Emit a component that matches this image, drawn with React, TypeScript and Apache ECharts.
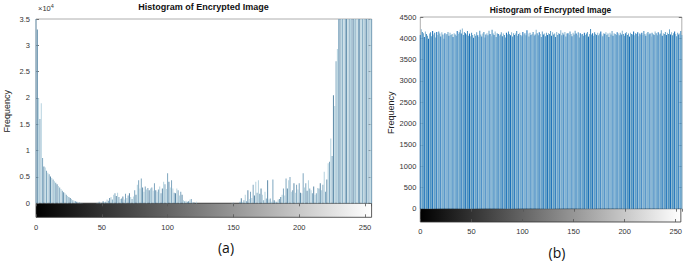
import React, { useEffect, useRef } from "react";
import * as echarts from "echarts";

// gray-level bins 0..255
const bins: number[] = Array.from({ length: 256 }, (_, i) => i);

// (a) histogram counts (clipped above 3.5e4)
const countsA: number[] = [
  35000, 33000, 20000, 16000, 19000, 8600, 7000, 6800, 6200, 5800, 5500, 5100, 4800, 4500, 4200, 3900,
  3600, 3300, 3000, 2700, 2400, 2100, 1900, 1600, 1400, 1200, 1000, 800, 600, 500, 400, 300,
  200, 150, 100, 60, 30, 20, 0, 0, 0, 0, 0, 0, 0, 0, 40, 100,
  300, 100, 50, 400, 200, 300, 700, 500, 1000, 1200, 700, 1600, 1900, 1400, 2000, 1200,
  800, 900, 1300, 700, 1800, 1000, 1500, 1900, 1200, 800, 1300, 2500, 1600, 3500, 4400, 2800,
  4700, 3000, 2200, 3200, 2600, 2900, 2500, 2800, 3000, 2400, 3800, 2500, 2200, 2600, 3200, 1900,
  2800, 4100, 3600, 2700, 5700, 4100, 3000, 4400, 2800, 2000, 1900, 2800, 2500, 1500, 2200, 1600,
  600, 400, 500, 300, 400, 700, 800, 100, 200, 0, 300, 0, 0, 0, 0, 0,
  0, 0, 0, 0, 0, 0, 0, 0, 0, 0, 0, 0, 0, 0, 0, 0,
  0, 0, 0, 0, 0, 50, 100, 0, 0, 0, 0, 300, 950, 200, 600, 1600,
  400, 2500, 800, 2200, 1000, 3500, 1500, 4100, 2000, 4400, 1800, 2800, 1600, 600, 2200, 900,
  4400, 700, 900, 300, 4500, 600, 300, 300, 700, 800, 1200, 1600, 2800, 1500, 4700, 2800,
  4400, 5000, 2200, 2500, 3800, 2000, 3500, 2600, 3800, 2000, 1900, 5700, 3000, 3800, 2400, 4400,
  2800, 2500, 1900, 3200, 1600, 1900, 2900, 2800, 3800, 2500, 3500, 6000, 2200, 4500, 7600, 7900,
  12300, 9000, 20500, 18500, 27000, 29300, 40000, 40000, 40000, 40000, 40000, 40000, 40000, 40000, 40000, 40000,
  40000, 40000, 40000, 40000, 40000, 40000, 40000, 40000, 40000, 40000, 40000, 40000, 40000, 40000, 40000, 40000,
];

// (b) histogram counts of the encrypted image
const countsB: number[] = [
  4080, 4210, 4150, 4120, 4030, 4160, 4100, 4060, 3990, 4110, 4140, 4050, 4170, 4090, 4130, 4020,
  4150, 4080, 4160, 4110, 4040, 4140, 4090, 3990, 4120, 4070, 4100, 4150, 4060, 4130, 4080, 4100,
  4030, 4120, 4090, 4060, 4170, 4100, 4140, 4200, 4110, 4230, 4080, 4150, 4120, 4090, 4170, 4060,
  4110, 4050, 4130, 4080, 4010, 4100, 4060, 4140, 4070, 4030, 4180, 4090, 4040, 4110, 4150, 4020,
  4090, 4120, 4070, 4180, 4100, 4050, 4200, 4110, 4080, 4160, 4030, 4120, 4100, 4060, 4090, 4140,
  4050, 4110, 4080, 4020, 4130, 4090, 4160, 4100, 4070, 4140, 4040, 4120, 4080, 4110, 4170, 4060,
  4100, 4130, 4080, 4050, 4150, 4090, 4120, 4070, 4190, 4110, 4040, 4130, 4080, 4100, 4150, 4060,
  4090, 4200, 4120, 4070, 4140, 4100, 4030, 4160, 4090, 4110, 4050, 4130, 4080, 4120, 4100, 4170,
  4060, 4140, 4090, 4110, 4030, 4150, 4080, 4120, 4100, 4190, 4070, 4130, 4090, 4150, 4040, 4110,
  4120, 4080, 4160, 4100, 4050, 4130, 4090, 4180, 4110, 4070, 4140, 4020, 4120, 4090, 4100, 4060,
  4130, 4080, 4110, 4150, 4040, 4100, 4220, 4090, 4120, 4060, 4140, 4100, 4080, 4130, 4070, 4110,
  4160, 4090, 4050, 4120, 4100, 4140, 4080, 4110, 4030, 4130, 4090, 4170, 4060, 4120, 4100, 4080,
  4140, 4110, 4070, 4130, 4090, 4180, 4100, 4060, 4120, 4150, 4080, 4110, 4040, 4130, 4100, 4090,
  4160, 4070, 4120, 4100, 4140, 4050, 4110, 4090, 4130, 4080, 4170, 4100, 4060, 4120, 4150, 4090,
  4110, 4040, 4130, 4100, 4080, 4160, 4120, 4070, 4140, 4090, 4110, 4190, 4060, 4120, 4100, 4150,
  4080, 4130, 4100, 4210, 4090, 4140, 4070, 4120, 4160, 4100, 4050, 4130, 4090, 4110, 4170, 4080,
];

const titleText = "Histogram of Encrypted Image";
const yName = "Frequency";

const FONT = "Liberation Sans, Arial, sans-serif";
const LABEL_COLOR = "#333";

export default function App() {
  const ref = useRef<HTMLDivElement>(null);
  useEffect(() => {
    if (!ref.current) return;
    const chart = echarts.init(ref.current, null, { renderer: "svg" });
    const grad = new echarts.graphic.LinearGradient(0, 0, 1, 0, [
      { offset: 0, color: "#000" },
      { offset: 1, color: "#fff" },
    ]);
    const axisLabel = { fontSize: 7.5, color: LABEL_COLOR, fontFamily: FONT };
    const tickStyle = { lineStyle: { color: "#555", width: 0.8 } };
    const histX = (gi: number) => ({
      type: "value" as const,
      gridIndex: gi,
      min: 0,
      max: 255,
      interval: 50,
      position: "top" as const,
      axisLine: { show: false },
      axisLabel: { show: false },
      axisTick: { show: true, inside: true, length: 3, ...tickStyle },
      splitLine: { show: false },
    });
    const barX = (gi: number, margin: number) => ({
      type: "value" as const,
      gridIndex: gi,
      min: 0,
      max: 255,
      interval: 50,
      position: "bottom" as const,
      axisLine: { show: false },
      axisLabel: { ...axisLabel, margin, formatter: (v: number) => String(v) },
      axisTick: { show: true, inside: true, length: 3, ...tickStyle },
      splitLine: { show: false },
    });
    const hiddenY = (gi: number) => ({
      type: "value" as const,
      gridIndex: gi,
      min: 0,
      max: 1,
      show: false,
    });
    const option: any = {
      animation: false,
      grid: [
        { left: 36, top: 19, width: 335.6, height: 184.3, show: true, borderColor: "#9a9a9a", borderWidth: 0.8, backgroundColor: "#fff" },
        { left: 36, top: 203.3, width: 335.6, height: 14, show: true, borderColor: "#333", borderWidth: 0.8, backgroundColor: grad },
        { left: 420.3, top: 17, width: 261.5, height: 191.7, show: true, borderColor: "#9a9a9a", borderWidth: 0.8, backgroundColor: "#fff" },
        { left: 420.3, top: 208.7, width: 261.5, height: 13.3, show: true, borderColor: "#333", borderWidth: 0.8, backgroundColor: grad },
      ],
      xAxis: [histX(0), barX(1, 6), histX(2), barX(3, 5)],
      yAxis: [
        {
          type: "value", gridIndex: 0, min: 0, max: 35000, interval: 5000, position: "left",
          axisLine: { show: false },
          axisTick: { show: true, inside: true, length: 3, ...tickStyle },
          axisLabel: { ...axisLabel, margin: 6, formatter: (v: number) => String(v / 10000) },
          splitLine: { show: false },
          name: yName, nameLocation: "middle", nameGap: 25, nameRotate: 90,
          nameTextStyle: { fontSize: 9, color: "#222", fontFamily: FONT },
        },
        {
          type: "value", gridIndex: 0, min: 0, max: 35000, interval: 5000, position: "right",
          axisLine: { show: false },
          axisTick: { show: true, inside: true, length: 3, ...tickStyle },
          axisLabel: { show: false },
          splitLine: { show: false },
        },
        hiddenY(1),
        {
          type: "value", gridIndex: 2, min: 0, max: 4500, interval: 500, position: "left",
          axisLine: { show: false },
          axisTick: { show: true, inside: true, length: 3, ...tickStyle },
          axisLabel: { ...axisLabel, margin: 4, formatter: (v: number) => String(v) },
          splitLine: { show: false },
          name: yName, nameLocation: "middle", nameGap: 25, nameRotate: 90,
          nameTextStyle: { fontSize: 9, color: "#222", fontFamily: FONT },
        },
        {
          type: "value", gridIndex: 2, min: 0, max: 4500, interval: 500, position: "right",
          axisLine: { show: false },
          axisTick: { show: true, inside: true, length: 3, ...tickStyle },
          axisLabel: { show: false },
          splitLine: { show: false },
        },
        hiddenY(3),
      ],
      series: [
        {
          type: "bar",
          xAxisIndex: 0,
          yAxisIndex: 0,
          barWidth: 1,
          clip: true,
          data: bins.map((b) => [b, countsA[b]]),
          itemStyle: {
            color: (p: any) => {
              const k = (p.dataIndex * 7) % 5;
              return k < 2 ? "#7ea6bf" : k === 2 ? "#5d8aa8" : "#b4d2de";
            },
          },
        },
        {
          type: "bar",
          xAxisIndex: 2,
          yAxisIndex: 3,
          barWidth: 1.05,
          clip: true,
          data: bins.map((b) => [b, countsB[b]]),
          itemStyle: {
            color: (p: any) => {
              const k = (p.dataIndex * 3) % 4;
              return k === 0 ? "#1b70b8" : k === 1 ? "#6aa4c9" : k === 2 ? "#4d93c2" : "#8db9d4";
            },
          },
        },
      ],
      graphic: [
        {
          type: "text", x: 203.5, y: 7,
          style: { text: titleText, font: `bold 9px ${FONT}`, fill: "#111", textAlign: "center", textVerticalAlign: "middle" },
        },
        {
          type: "text", x: 550.5, y: 10,
          style: { text: titleText, font: `bold 8.4px ${FONT}`, fill: "#111", textAlign: "center", textVerticalAlign: "middle" },
        },
        {
          type: "text", x: 38, y: 8,
          style: {
            text: "{a|×10}{s|4}",
            textVerticalAlign: "middle",
            rich: {
              a: { fontSize: 7.5, fill: "#333", fontFamily: FONT },
              s: { fontSize: 5.5, fill: "#333", fontFamily: FONT, padding: [0, 0, 5, 0] },
            },
          },
        },
        {
          type: "text", x: 226, y: 247,
          style: { text: "(a)", font: `14px "Open Sans", sans-serif`, fill: "#111", textAlign: "center", textVerticalAlign: "middle" },
        },
        {
          type: "text", x: 557, y: 252,
          style: { text: "(b)", font: `14px "Open Sans", sans-serif`, fill: "#111", textAlign: "center", textVerticalAlign: "middle" },
        },
      ],
    };
    chart.setOption(option);
    return () => chart.dispose();
  }, []);
  return <div ref={ref} style={{ width: 685, height: 261, position: "absolute", left: 0, top: 0 }} />;
}
